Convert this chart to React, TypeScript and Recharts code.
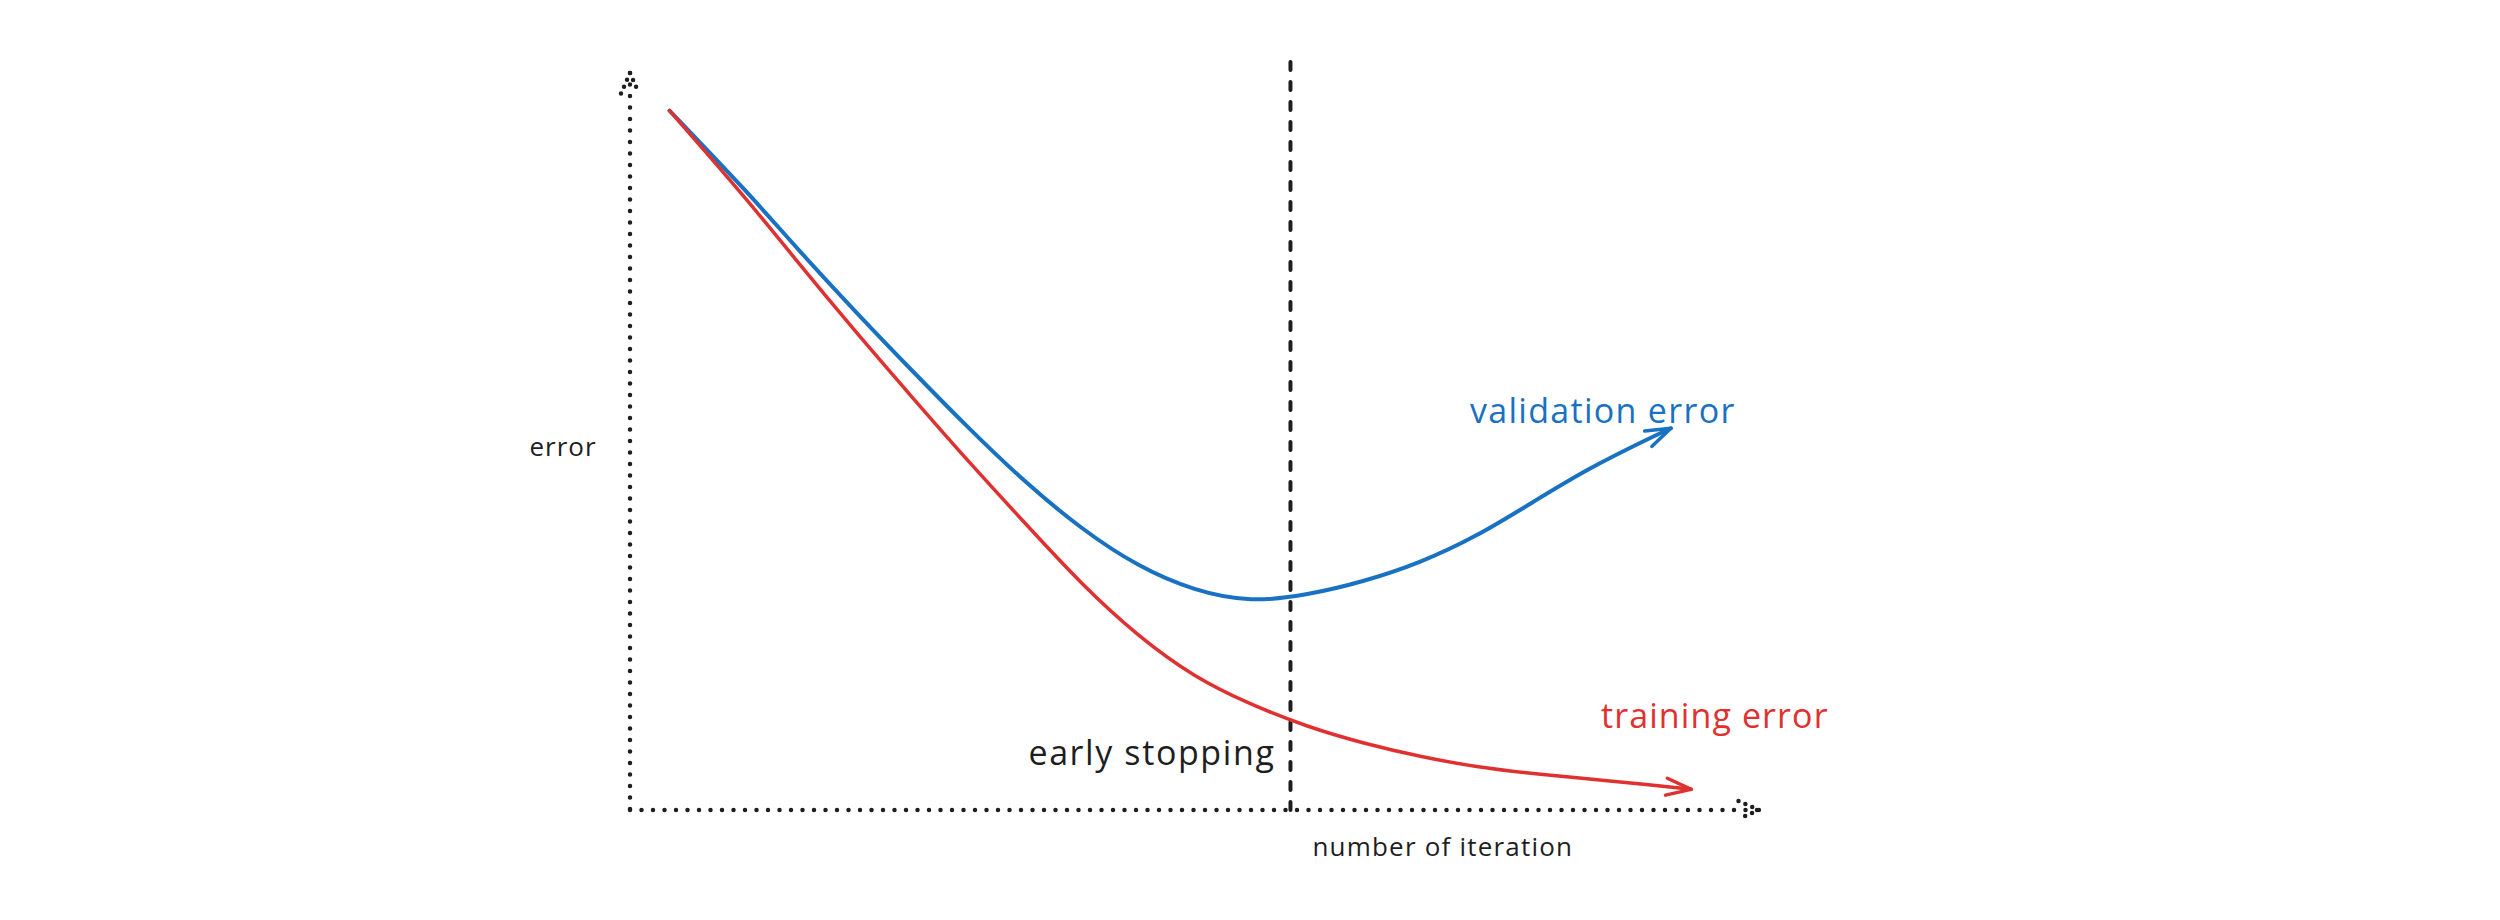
import React from "react";
import {
  LineChart,
  Line,
  XAxis,
  YAxis,
  ReferenceLine,
  ReferenceDot,
  Label,
} from "recharts";

// validation error curve (goes down, bottoms out, rises again)
const validationIterations = [
  3.5, 10, 15, 20, 25, 30, 35, 40, 45, 50, 55, 60, 65, 70, 75, 80, 85, 90, 92.2,
];
const validationError = [
  94.9, 84.4, 75.9, 67.6, 59.6, 51.85, 44.6, 38.3, 33.3, 30.0, 28.6, 29.3, 31.1,
  33.7, 37.3, 41.8, 46.3, 50.2, 51.8,
];

// training error curve (keeps going down)
const trainingIterations = [
  3.5, 10, 15, 20, 25, 30, 35, 40, 45, 50, 55, 60, 65, 70, 75, 80, 85, 90, 94,
];
const trainingError = [
  94.9, 83.4, 74.1, 64.9, 56.0, 47.3, 38.9, 30.8, 23.8, 18.3, 14.4, 11.4, 9.1,
  7.3, 5.9, 4.95, 4.2, 3.45, 2.8,
];

const earlyStoppingIteration = 58.5;

const validationData = validationIterations.map((iteration, i) => ({
  iteration,
  error: validationError[i],
}));
const trainingData = trainingIterations.map((iteration, i) => ({
  iteration,
  error: trainingError[i],
}));

const BLUE = "#1971c2";
const RED = "#e03131";
const INK = "#1e1e1e";
const FONT = "'Open Sans', sans-serif";

const dotted = {
  stroke: INK,
  strokeWidth: 4.5,
  strokeDasharray: "0 11.5",
  strokeLinecap: "round" as const,
};

function ArrowMarker({ id, color }: { id: string; color: string }) {
  return (
    <marker
      id={id}
      markerUnits="userSpaceOnUse"
      markerWidth={40}
      markerHeight={40}
      viewBox="-35 -20 40 40"
      refX={0}
      refY={0}
      orient="auto"
      overflow="visible"
    >
      <path
        d="M -25 -8.5 L 0 0 L -25 8.5"
        fill="none"
        stroke={color}
        strokeWidth={3.5}
        strokeLinecap="round"
        strokeLinejoin="round"
      />
    </marker>
  );
}

export default function App() {
  return (
    <div style={{ position: "absolute", left: 0, top: 0, background: "#fff" }}>
      <LineChart
        width={2500}
        height={920}
        margin={{ top: 73, right: 741, bottom: 80, left: 570 }}
      >
        <defs>
          <ArrowMarker id="arrow-blue" color={BLUE} />
          <ArrowMarker id="arrow-red" color={RED} />
          <marker
            id="axis-arrow"
            markerUnits="userSpaceOnUse"
            markerWidth={40}
            markerHeight={40}
            viewBox="-35 -20 40 40"
            refX={0}
            refY={0}
            orient="auto-start-reverse"
            overflow="visible"
          >
            <path
              d="M -20.5 -9 L 0 0 L -20.5 9"
              fill="none"
              stroke={INK}
              strokeWidth={4.5}
              strokeDasharray="0 7.5"
              strokeLinecap="round"
            />
          </marker>
        </defs>

        <XAxis
          type="number"
          dataKey="iteration"
          domain={[0, 100]}
          allowDataOverflow
          tick={false}
          tickLine={false}
          height={30}
          axisLine={{ ...dotted, markerEnd: "url(#axis-arrow)" }}
        />
        <YAxis
          type="number"
          dataKey="error"
          domain={[0, 100]}
          allowDataOverflow
          tick={false}
          tickLine={false}
          width={60}
          axisLine={{ ...dotted, markerStart: "url(#axis-arrow)" }}
          label={{
            value: "error",
            position: "center",
            dx: -37,
            dy: 5,
            fill: INK,
            fontSize: 26,
            letterSpacing: 1,
            fontFamily: FONT,
          }}
        />

        <ReferenceLine
          segment={[
            { x: earlyStoppingIteration, y: 101.5 },
            { x: earlyStoppingIteration, y: 0 },
          ]}
          ifOverflow="visible"
          stroke={INK}
          strokeWidth={4}
          strokeDasharray="8 12"
          strokeLinecap="round"
        >
          <Label
            value="early stopping"
            position="insideBottomRight"
            offset={15}
            dy={-30}
            fill={INK}
            fontSize={34}
            letterSpacing={1.6}
            fontFamily={FONT}
          />
          <Label
            value="number of iteration"
            position="insideBottomLeft"
            offset={22}
            dy={68}
            fill={INK}
            fontSize={26}
            letterSpacing={1.2}
            fontFamily={FONT}
          />
        </ReferenceLine>

        <Line
          data={validationData}
          dataKey="error"
          type="natural"
          stroke={BLUE}
          strokeWidth={4}
          strokeLinecap="round"
          dot={false}
          activeDot={false}
          markerEnd="url(#arrow-blue)"
          isAnimationActive={false}
        />
        <Line
          data={trainingData}
          dataKey="error"
          type="natural"
          stroke={RED}
          strokeWidth={3.5}
          strokeLinecap="round"
          dot={false}
          activeDot={false}
          markerEnd="url(#arrow-red)"
          isAnimationActive={false}
        />

        <ReferenceDot
          x={74.4}
          y={54.1}
          r={0}
          fill="none"
          stroke="none"
          label={{
            value: "validation error",
            position: "right",
            offset: 0,
            fill: BLUE,
            fontSize: 34,
            letterSpacing: 1.3,
            fontFamily: FONT,
          }}
        />
        <ReferenceDot
          x={86.0}
          y={12.8}
          r={0}
          fill="none"
          stroke="none"
          label={{
            value: "training error",
            position: "right",
            offset: 0,
            fill: RED,
            fontSize: 34,
            letterSpacing: 1.1,
            fontFamily: FONT,
          }}
        />
      </LineChart>
    </div>
  );
}
